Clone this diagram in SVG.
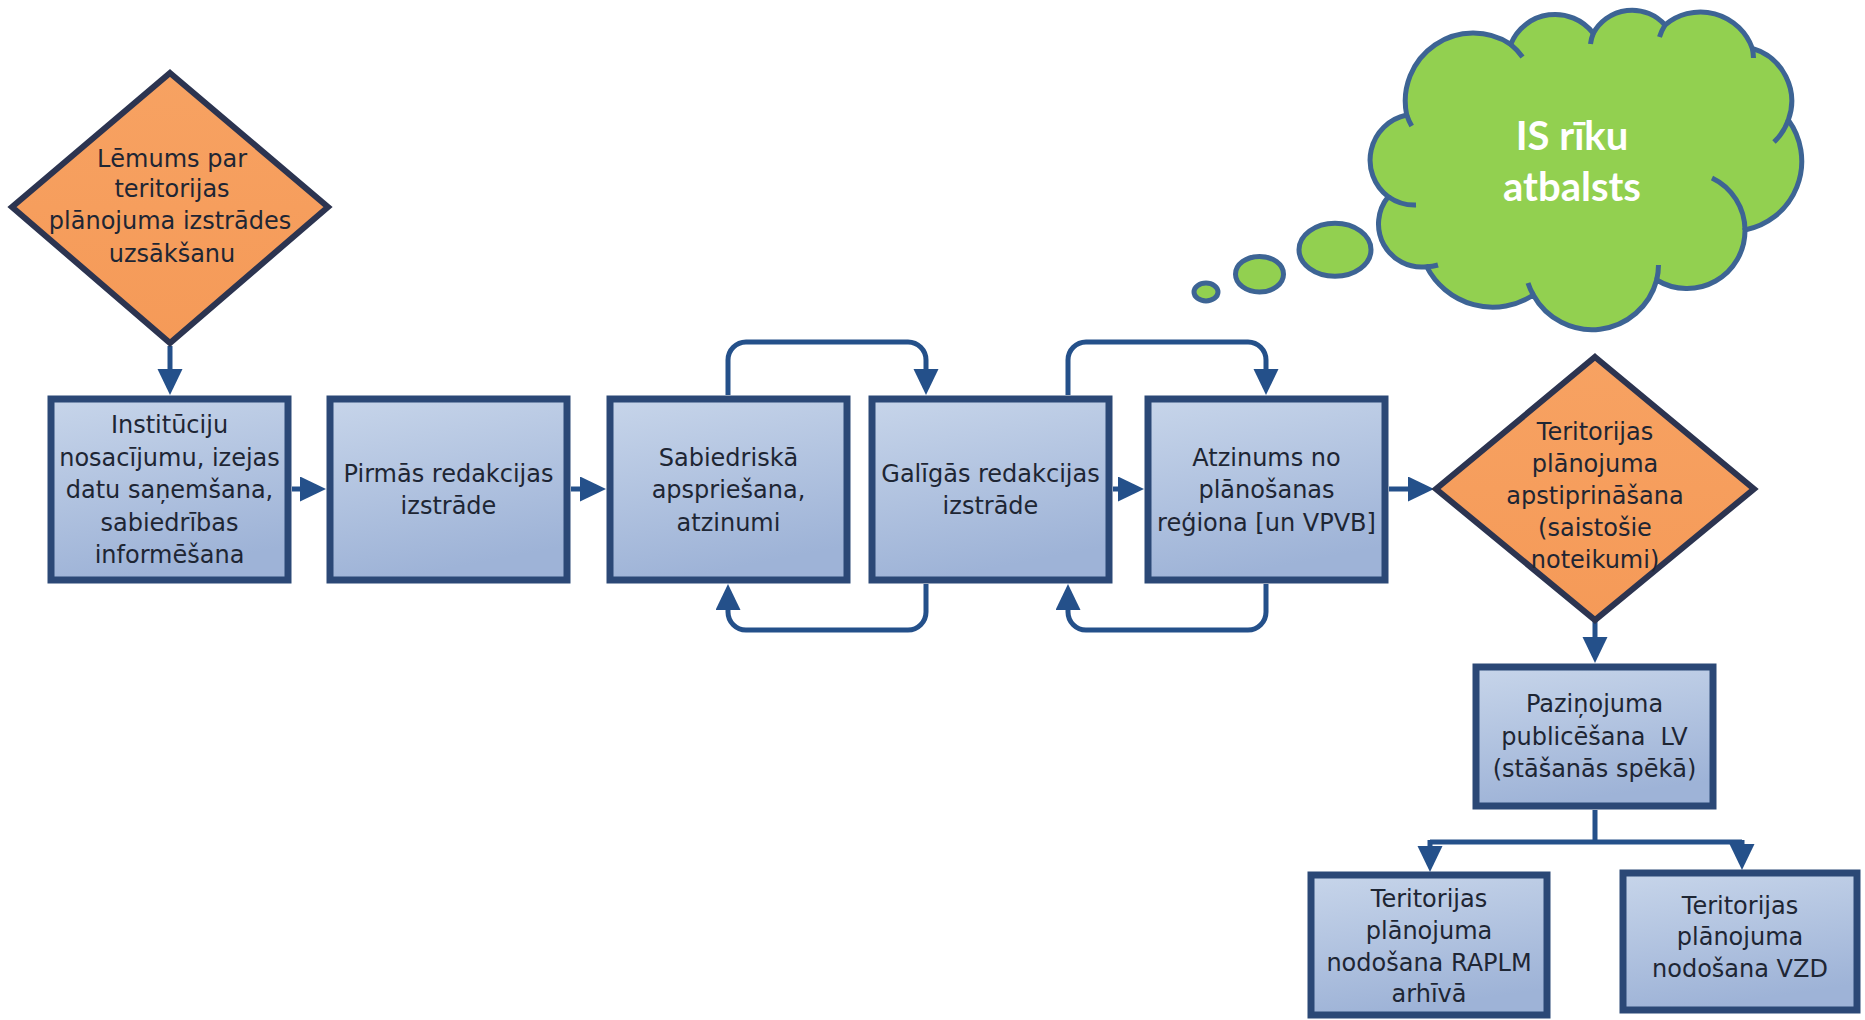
<svg xmlns="http://www.w3.org/2000/svg" width="1865" height="1020" viewBox="0 0 1865 1020">
<defs>
<linearGradient id="boxg" x1="0" y1="0" x2="0.25" y2="1">
<stop offset="0" stop-color="#c7d5ea"/>
<stop offset="1" stop-color="#9eb3d7"/>
</linearGradient>
<linearGradient id="dg" x1="0" y1="0" x2="0" y2="1">
<stop offset="0" stop-color="#f7a262"/>
<stop offset="1" stop-color="#f59a58"/>
</linearGradient>
<marker id="ah" markerUnits="userSpaceOnUse" markerWidth="28" markerHeight="26" refX="20" refY="12.5" orient="auto">
<path d="M0,0 L26,12.5 L0,25 Z" fill="#24508a"/>
</marker>
</defs>
<style>
.box{fill:url(#boxg);stroke:#2b4876;stroke-width:7}
.dia{fill:url(#dg);stroke:#2c3450;stroke-width:6;stroke-linejoin:miter}
.t{font-family:"DejaVu Sans",sans-serif;font-size:24px;fill:#1e2634;text-anchor:middle}
.c{fill:none;stroke:#24508a;stroke-width:5}
.ca{fill:none;stroke:#24508a;stroke-width:5;marker-end:url(#ah)}
.cloud{fill:#92d050;stroke:#3d6494;stroke-width:5}
.tick{fill:none;stroke:#3d6494;stroke-width:5}
.ct{font-family:Lato,"Open Sans",sans-serif;font-weight:bold;font-size:40px;fill:#ffffff;text-anchor:middle}
</style>

<g id="connectors">
<path class="ca" d="M170 346 V389"/>
<path class="ca" d="M292 489 H320"/>
<path class="ca" d="M571 489 H600"/>
<path class="ca" d="M1113 489 H1138"/>
<path class="ca" d="M1389 489 H1428"/>
<path class="ca" d="M728 395 V360 A18 18 0 0 1 746 342 H908 A18 18 0 0 1 926 360 V389"/>
<path class="ca" d="M926 584 V612 A18 18 0 0 1 908 630 H746 A18 18 0 0 1 728 612 V590"/>
<path class="ca" d="M1068 395 V360 A18 18 0 0 1 1086 342 H1248 A18 18 0 0 1 1266 360 V389"/>
<path class="ca" d="M1266 584 V612 A18 18 0 0 1 1248 630 H1086 A18 18 0 0 1 1068 612 V590"/>
<path class="ca" d="M1595 621 V657"/>
<path class="c" d="M1595 810 V842 M1430 842 H1742"/>
<path class="ca" d="M1430 840 V866"/>
<path class="ca" d="M1742 840 V864"/>
</g>

<g id="n_lemums">
<polygon class="dia" points="170,73 328,207 170,343 12,207"/>
<text class="t"><tspan x="172" y="166.5">Lēmums par</tspan><tspan x="172" y="196.5">teritorijas</tspan><tspan x="170" y="228.5">plānojuma izstrādes</tspan><tspan x="172" y="261.5">uzsākšanu</tspan></text>
</g>

<g id="n_instituciju">
<rect class="box" x="51" y="399" width="237" height="181"/>
<text class="t"><tspan x="169.5" y="433">Institūciju</tspan><tspan x="169.5" y="465.5">nosacījumu, izejas</tspan><tspan x="169.5" y="498">datu saņemšana,</tspan><tspan x="169.5" y="530.5">sabiedrības</tspan><tspan x="169.5" y="563">informēšana</tspan></text>
</g>

<g id="n_pirmas">
<rect class="box" x="330" y="399" width="237" height="181"/>
<text class="t"><tspan x="448.5" y="481.5">Pirmās redakcijas</tspan><tspan x="448.5" y="514">izstrāde</tspan></text>
</g>

<g id="n_sabiedriska">
<rect class="box" x="610" y="399" width="237" height="181"/>
<text class="t"><tspan x="728.5" y="465.5">Sabiedriskā</tspan><tspan x="728.5" y="498">apspriešana,</tspan><tspan x="728.5" y="530.5">atzinumi</tspan></text>
</g>

<g id="n_galigas">
<rect class="box" x="872" y="399" width="237" height="181"/>
<text class="t"><tspan x="990.5" y="481.5">Galīgās redakcijas</tspan><tspan x="990.5" y="514">izstrāde</tspan></text>
</g>

<g id="n_atzinums">
<rect class="box" x="1148" y="399" width="237" height="181"/>
<text class="t"><tspan x="1266.5" y="465.5">Atzinums no</tspan><tspan x="1266.5" y="498">plānošanas</tspan><tspan x="1266.5" y="530.5">reģiona [un VPVB]</tspan></text>
</g>

<g id="n_apstiprinasana">
<polygon class="dia" points="1595,357 1754,489 1595,620 1436,489"/>
<text class="t"><tspan x="1595" y="439.5">Teritorijas</tspan><tspan x="1595" y="471.5">plānojuma</tspan><tspan x="1595" y="503.5">apstiprināšana</tspan><tspan x="1595" y="535.5">(saistošie</tspan><tspan x="1595" y="567.5">noteikumi)</tspan></text>
</g>

<g id="n_pazinojuma">
<rect class="box" x="1476" y="667" width="237" height="139"/>
<text class="t"><tspan x="1594.5" y="712">Paziņojuma</tspan><tspan x="1594.5" y="744.5">publicēšana&#160; LV</tspan><tspan x="1594.5" y="777">(stāšanās spēkā)</tspan></text>
</g>

<g id="n_raplm">
<rect class="box" x="1311" y="875" width="236" height="140"/>
<text class="t"><tspan x="1429" y="906.5">Teritorijas</tspan><tspan x="1429" y="938.5">plānojuma</tspan><tspan x="1429" y="970.5">nodošana RAPLM</tspan><tspan x="1429" y="1001.5">arhīvā</tspan></text>
</g>

<g id="n_vzd">
<rect class="box" x="1623" y="873" width="234" height="137"/>
<text class="t"><tspan x="1740" y="913.5">Teritorijas</tspan><tspan x="1740" y="945">plānojuma</tspan><tspan x="1740" y="977">nodošana VZD</tspan></text>
</g>

<g id="n_cloud">
<ellipse class="cloud" cx="1206" cy="292" rx="12" ry="9" stroke-width="4"/>
<ellipse class="cloud" cx="1259.5" cy="274.2" rx="24" ry="17.8"/>
<ellipse class="cloud" cx="1335" cy="249.7" rx="36" ry="26.5"/>
<path class="cloud" d="M1406.7 115 A68 68 0 0 1 1510.7 44.3 A48 48 0 0 1 1593.3 33.3 A44 44 0 0 1 1665 25 A55 55 0 0 1 1752.3 48.3 A55 55 0 0 1 1788.3 120 A70 70 0 0 1 1745 230 A58 58 0 0 1 1656.7 280 A67 67 0 0 1 1533.3 295 A74 74 0 0 1 1426.7 266.7 A43 43 0 0 1 1388.3 196.7 A46 46 0 0 1 1406.7 115 Z"/>
<path class="tick" d="M1406.7 115 A68 68 0 0 0 1411.7 126 M1510.7 44.3 A68 68 0 0 1 1522.5 57 M1593.3 33.3 A44 44 0 0 0 1590.5 44 M1665 25 A55 55 0 0 0 1659.5 37 M1752.3 48.3 A55 55 0 0 1 1753.5 58 M1788.3 120 A55 55 0 0 1 1774 142 M1745 230 A58 58 0 0 0 1712 178 M1656.7 280 A67 67 0 0 0 1658.5 265 M1533.3 295 A67 67 0 0 1 1528 283 M1426.7 266.7 A43 43 0 0 0 1438 265 M1388.3 196.7 A46 46 0 0 0 1416 205"/>
<text class="ct"><tspan x="1572" y="150">IS rīku</tspan><tspan x="1572" y="200.5">atbalsts</tspan></text>
</g>
</svg>
